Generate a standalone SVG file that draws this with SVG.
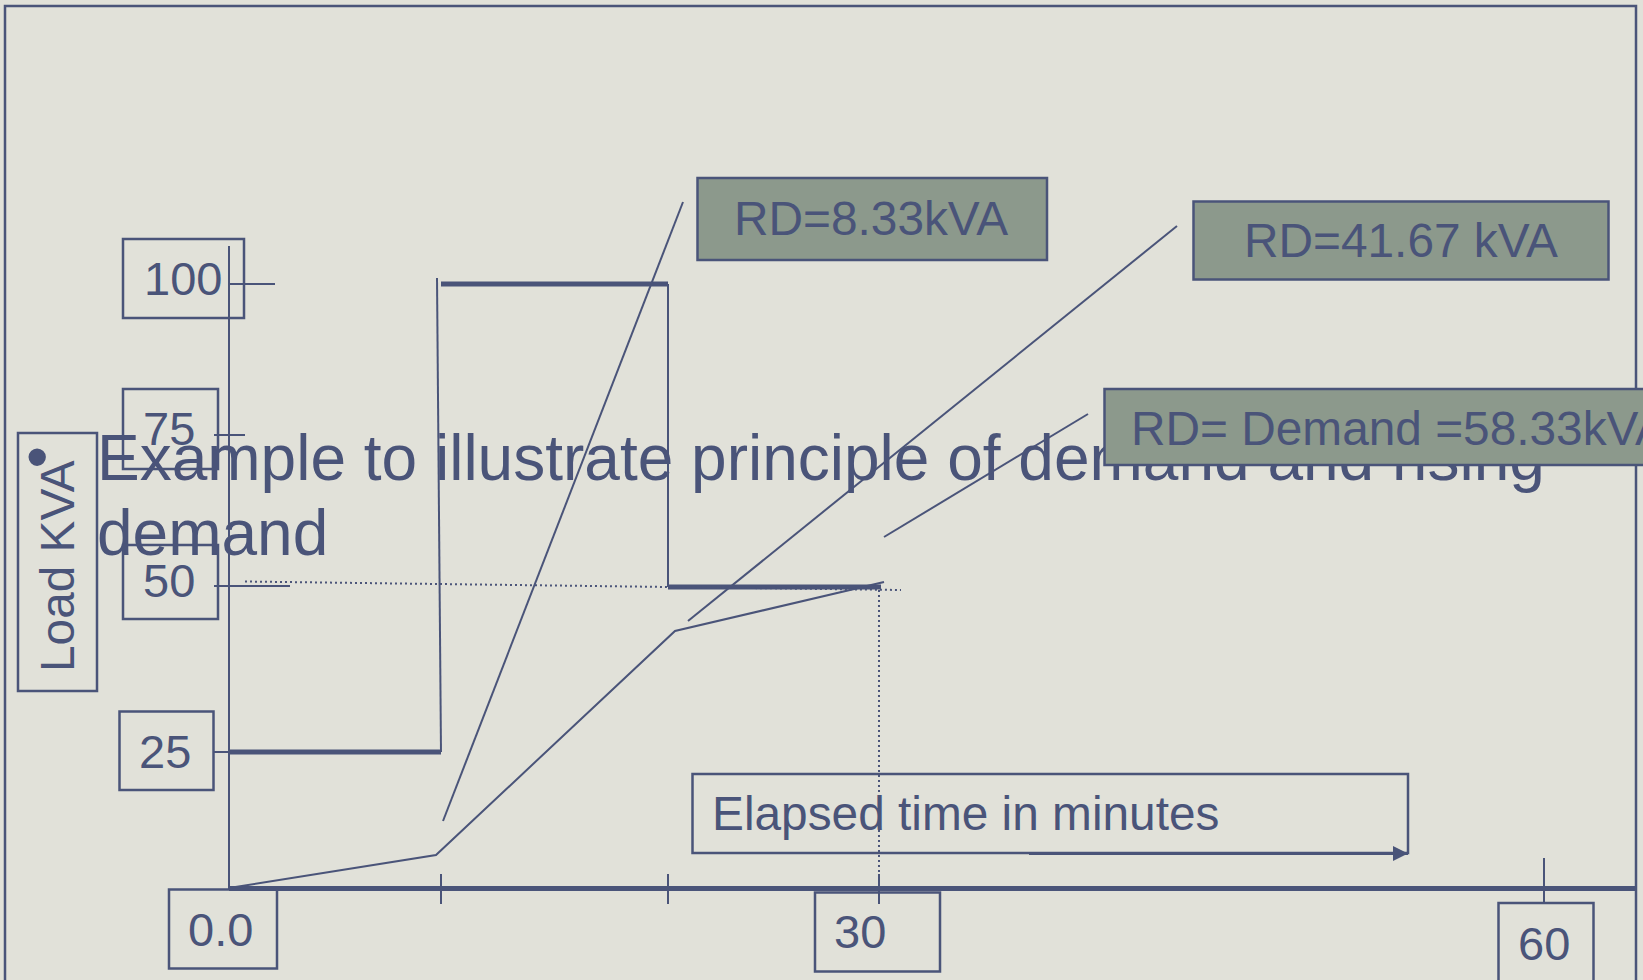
<svg xmlns="http://www.w3.org/2000/svg" width="1643" height="980" viewBox="0 0 1643 980">
  <defs>
    <style>
      .ln { stroke: #4a5479; fill: none; stroke-width: 2; }
      .thick { stroke: #4a5479; fill: none; stroke-width: 5; }
      .dot { stroke: #4a5479; fill: none; stroke-width: 2; stroke-dasharray: 2 3; }
      .box { stroke: #4a5479; fill: none; stroke-width: 2.5; }
      .rd { stroke: #4a5479; fill: #8c998c; stroke-width: 2.5; }
      .lbl { font-family: "Liberation Sans", Arial, sans-serif; font-size: 47px; fill: #4a5479; }
      .cap { font-family: "Liberation Sans", Arial, sans-serif; font-size: 47.8px; fill: #4a5479; }
      .title { font-family: "Liberation Sans", Arial, sans-serif; font-size: 64px; fill: #4a5479; }
    </style>
    <marker id="arrow" viewBox="0 0 10 10" refX="10" refY="5" markerWidth="6" markerHeight="5" markerUnits="strokeWidth" orient="auto">
      <path d="M0,0 L10,5 L0,10 z" fill="#4a5479"/>
    </marker>
  </defs>

  <!-- slide background and frame -->
  <rect x="0" y="0" width="1643" height="980" fill="#e1e1d9"/>
  <rect x="5" y="6" width="1631" height="990" fill="none" stroke="#4a5479" stroke-width="2.5"/>

  <!-- heading text -->
  <g id="title">
    <text class="title" x="26" y="479">•</text>
    <text class="title" x="97" y="480">Example to illustrate principle of demand and rising</text>
    <text class="title" x="97" y="555">demand</text>
  </g>

  <!-- axes, load profile, leaders -->
  <g id="connectors">
    <!-- y axis and ticks -->
    <line class="ln" x1="229" y1="246" x2="229" y2="889"/>
    <line class="ln" x1="229" y1="284" x2="275" y2="284"/>
    <line class="ln" x1="214" y1="435" x2="245" y2="435"/>
    <line class="ln" x1="214" y1="586" x2="290" y2="586"/>
    <line class="ln" x1="214" y1="752" x2="229" y2="752"/>
    <!-- x axis and ticks -->
    <line class="thick" x1="229" y1="888.5" x2="1635" y2="888.5"/>
    <line class="ln" x1="441" y1="874" x2="441" y2="904"/>
    <line class="ln" x1="668" y1="874" x2="668" y2="904"/>
    <line class="ln" x1="879" y1="874" x2="879" y2="904"/>
    <line class="ln" x1="1544" y1="858" x2="1544" y2="903"/>
    <!-- stepped load -->
    <line class="thick" x1="229" y1="752" x2="441" y2="752"/>
    <line class="ln" x1="441" y1="752" x2="437" y2="278"/>
    <line class="thick" x1="441" y1="284" x2="668" y2="284"/>
    <line class="ln" x1="668" y1="284" x2="668" y2="587"/>
    <line class="thick" x1="668" y1="587" x2="881" y2="587"/>
    <!-- rising demand -->
    <polyline class="ln" points="229,888 436,855 675,631 884,582"/>
    <!-- 50 kVA / 30 min guides -->
    <line class="dot" x1="245" y1="581.5" x2="901" y2="590"/>
    <line class="dot" x1="879" y1="590" x2="879" y2="874"/>
    <!-- leaders to RD labels -->
    <line class="ln" x1="443" y1="821" x2="683" y2="202"/>
    <line class="ln" x1="688" y1="621" x2="1177" y2="226"/>
    <line class="ln" x1="884" y1="537" x2="1088" y2="414"/>
    <!-- time arrow -->
    <line x1="1029" y1="853.5" x2="1408" y2="853.5" stroke="#4a5479" stroke-width="3" marker-end="url(#arrow)"/>
  </g>

  <!-- axis value labels -->
  <g id="y100">
    <rect class="box" x="123" y="239" width="121" height="79"/>
    <text class="lbl" x="144" y="295">100</text>
  </g>
  <g id="y75">
    <rect class="box" x="123" y="389" width="95" height="80"/>
    <text class="lbl" x="143" y="445">75</text>
  </g>
  <g id="y50">
    <rect class="box" x="123" y="545" width="95" height="74"/>
    <text class="lbl" x="143" y="597">50</text>
  </g>
  <g id="y25">
    <rect class="box" x="119.5" y="711.5" width="94" height="78.5"/>
    <text class="lbl" x="139" y="768">25</text>
  </g>
  <g id="x0">
    <rect class="box" x="169" y="889.5" width="108" height="79"/>
    <text class="lbl" x="188" y="946">0.0</text>
  </g>
  <g id="x30">
    <rect class="box" x="815" y="892.5" width="125" height="79"/>
    <text class="lbl" x="834" y="948">30</text>
  </g>
  <g id="x60">
    <rect class="box" x="1498.5" y="903" width="95" height="100"/>
    <text class="lbl" x="1518" y="960">60</text>
  </g>

  <!-- axis titles -->
  <g id="yTitle">
    <rect class="box" x="18" y="433" width="79" height="258"/>
    <text class="cap" transform="translate(73.5,672) rotate(-90)">Load KVA</text>
  </g>
  <g id="xTitle">
    <rect class="box" x="692.5" y="774" width="715.5" height="79"/>
    <text class="cap" x="712" y="830">Elapsed time in minutes</text>
  </g>

  <!-- RD callouts -->
  <g id="rd1">
    <rect class="rd" x="697.5" y="178" width="349.5" height="82"/>
    <text class="cap" x="734" y="235">RD=8.33kVA</text>
  </g>
  <g id="rd2">
    <rect class="rd" x="1193.5" y="201.5" width="415" height="78"/>
    <text class="cap" x="1244" y="257">RD=41.67 kVA</text>
  </g>
  <g id="rd3">
    <rect class="rd" x="1104.5" y="389" width="560" height="76"/>
    <text class="cap" x="1131" y="445">RD= Demand =58.33kVA</text>
  </g>
</svg>
